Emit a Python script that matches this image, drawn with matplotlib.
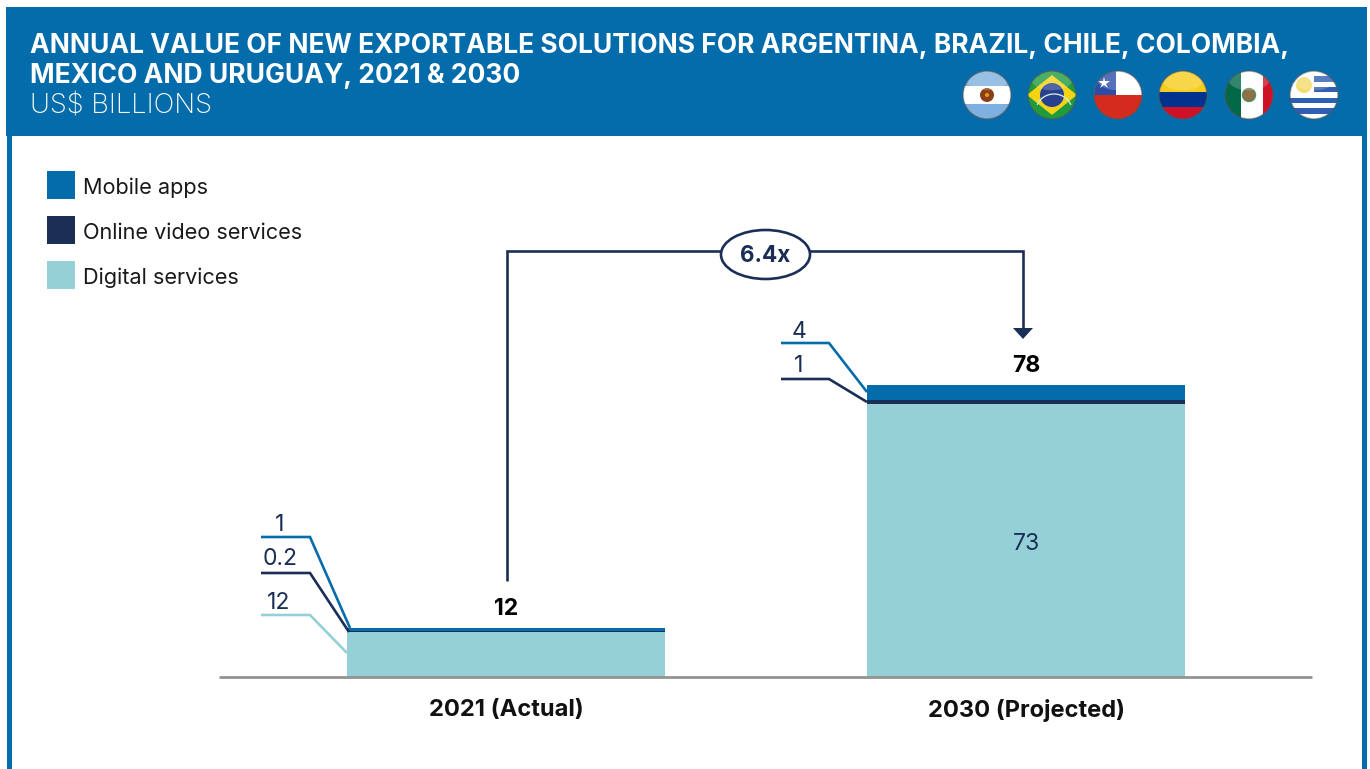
#!/usr/bin/env python3
"""Annual value of new exportable solutions, 2021 and 2030."""

import matplotlib

matplotlib.use("Agg")
import matplotlib.pyplot as plt
from matplotlib.patches import Arc, Circle, Ellipse, Polygon, Rectangle

YEARS = ["2021 (Actual)", "2030 (Projected)"]
DIGITAL = [12, 73]
ONLINE = [0.2, 1]
MOBILE = [1, 4]
TOTALS = ["12", "78"]
DIGITAL_LABELS = ["12", "73"]
ONLINE_LABELS = ["0.2", "1"]
MOBILE_LABELS = ["1", "4"]
LEGEND = ["Mobile apps", "Online video services", "Digital services"]
MULTIPLE = "6.4x"

BLUE = "#056cab"
NAVY = "#1b2f56"
TEAL = "#95d0d7"
W, H = 1370, 769
FONT = "Inter"
LINE = 1.9

plt.rcParams["font.family"] = FONT


def px(size):
    return size * 0.72


fig = plt.figure(figsize=(W / 100, H / 100), dpi=100)

# overlay in pixel coordinates for header, legend and callouts
ov = fig.add_axes([0, 0, 1, 1], zorder=3)
ov.set_xlim(0, W)
ov.set_ylim(H, 0)
ov.axis("off")
ov.patch.set_alpha(0)

# chart axes, bars go through the data scale
ax = fig.add_axes([219 / W, 1 - 677 / H, (1312 - 219) / W, (677 - 136) / H], zorder=2)
ax.set_xlim(-0.552, 1.55)
ax.set_ylim(0, 541 / 3.74)
ax.patch.set_alpha(0)
xs = [0, 1]
bar_w = 318 / 520
bottom_online = DIGITAL
bottom_mobile = [a + b for a, b in zip(DIGITAL, ONLINE)]
ax.bar(xs, DIGITAL, bar_w, color=TEAL)
ax.bar(xs, ONLINE, bar_w, bottom=bottom_online, color=NAVY)
ax.bar(xs, MOBILE, bar_w, bottom=bottom_mobile, color=BLUE)
for side in ("top", "left", "right"):
    ax.spines[side].set_visible(False)
ax.spines["bottom"].set_color("#939393")
ax.spines["bottom"].set_linewidth(2)
ax.spines["bottom"].set_capstyle("butt")
ax.set_yticks([])
ax.set_xticks(xs)
ax.set_xticklabels(YEARS, fontsize=px(23.7), fontweight="bold", color="#111111")
ax.tick_params(axis="x", length=0, pad=16)
ax.annotate(DIGITAL_LABELS[1], (1, DIGITAL[1] / 2), xytext=(0, -4), textcoords="offset pixels",
            ha="center", va="center", fontsize=px(23), color=NAVY)
for x, top, label in zip(xs, [a + b for a, b in zip(bottom_mobile, MOBILE)], TOTALS):
    ax.annotate(label, (x, top), xytext=(0, 8), textcoords="offset pixels",
                ha="center", va="bottom", fontsize=px(23), fontweight="bold", color="black")

# frame and header
ov.add_patch(Rectangle((7, 136), 5, H - 136, color=BLUE, lw=0))
ov.add_patch(Rectangle((1362, 136), 5, H - 136, color=BLUE, lw=0))
ov.add_patch(Rectangle((6, 7), 1361, 129, color=BLUE, lw=0))
ov.text(30, 46, "ANNUAL VALUE OF NEW EXPORTABLE SOLUTIONS FOR ARGENTINA, BRAZIL, CHILE, COLOMBIA,",
        color="white", fontsize=px(26.4), fontweight="bold", va="center")
ov.text(30, 76, "MEXICO AND URUGUAY, 2021 & 2030",
        color="white", fontsize=px(26.4), fontweight="bold", va="center")
ov.text(30, 106, "US$ BILLIONS", color="white", fontsize=px(27.3), fontweight="light", va="center")

# legend
for y, color, label in zip([171, 216, 261], [BLUE, NAVY, TEAL], LEGEND):
    ov.add_patch(Rectangle((47, y), 28, 28, color=color, lw=0))
    ov.text(83, y + 17, label, fontsize=px(21.7), color="#1a1a1a", va="center")


def leader(points, color):
    ov.plot(*zip(*points), color=color, lw=LINE, solid_joinstyle="miter", solid_capstyle="butt")


# leader lines and their labels
leader([(261, 537), (310, 537), (350, 628)], BLUE)
leader([(261, 573), (310, 573), (349, 632)], NAVY)
leader([(261, 615), (310, 615), (347, 653)], TEAL)
leader([(781, 343), (829, 343), (867, 392)], BLUE)
leader([(781, 379), (829, 379), (867, 402)], NAVY)
for x, y, label in [(280, 525, MOBILE_LABELS[0]), (280, 559, ONLINE_LABELS[0]),
                    (279, 603, DIGITAL_LABELS[0]), (799, 332, MOBILE_LABELS[1]),
                    (799, 366, ONLINE_LABELS[1])]:
    ov.text(x, y, label, ha="center", va="center", fontsize=px(23), color=NAVY)

# growth bracket
ov.plot([507.5, 507.5, 1023.5, 1023.5], [581, 251, 251, 328], color=NAVY, lw=LINE,
        solid_joinstyle="miter", solid_capstyle="butt")
ov.add_patch(Polygon([(1013, 328), (1033, 328), (1023, 339)], color=NAVY, lw=0))
ov.add_patch(Ellipse((765.5, 254.5), 89, 49, fc="white", ec=NAVY, lw=LINE, zorder=4))
ov.text(765.5, 256, MULTIPLE, ha="center", va="center", fontsize=px(22.5),
        fontweight="bold", color=NAVY, zorder=5)


def flag(cx, cy, shapes, r=24):
    clip = Circle((cx, cy), r, transform=ov.transData)
    for x0, y0, w, h, color in shapes:
        p = Rectangle((cx + x0 * r, cy + y0 * r), w * r, h * r, color=color, lw=0, zorder=6)
        ov.add_patch(p)
        p.set_clip_path(clip)
    return clip


def clipped(patch, clip, z=7):
    ov.add_patch(patch)
    patch.set_zorder(z)
    patch.set_clip_path(clip)


def finish(cx, cy, clip, r=24):
    gloss = Ellipse((cx, cy - r * 0.62), r * 1.7, r * 0.85, color="white", alpha=0.2, lw=0)
    clipped(gloss, clip, 9)
    ov.add_patch(Circle((cx, cy), r, fc="none", ec="#555555", lw=1, alpha=0.6, zorder=10))


# Argentina
cx, cy = 987, 95
c = flag(cx, cy, [(-1, -1, 2, 0.62, "#7eb1df"), (-1, -0.38, 2, 0.76, "white"), (-1, 0.38, 2, 0.62, "#7eb1df")])
clipped(Circle((cx, cy), 7, color="#8a3f17", lw=0), c)
clipped(Circle((cx, cy), 2, color="#e49a1c", lw=0), c, 8)
finish(cx, cy, c)

# Brazil
cx, cy = 1052, 95
c = flag(cx, cy, [(-1, -1, 2, 2, "#1f9a3c")])
clipped(Polygon([(cx - 25, cy), (cx, cy - 20), (cx + 25, cy), (cx, cy + 20)], color="#f4d316", lw=0), c)
clipped(Circle((cx, cy), 12, color="#27408f", lw=0), c, 8)
band = Arc((cx + 2, cy + 16), 36, 34, theta1=200, theta2=340, color="#cfe6dc", lw=1)
clipped(band, c, 8)
finish(cx, cy, c)

# Chile
cx, cy = 1118, 95
c = flag(cx, cy, [(-1, -1, 2, 1, "white"), (-1, 0, 2, 1, "#d52b1e"), (-1, -1, 0.93, 1, "#2a4ea8")])
ov.plot([cx - 14], [cy - 12], marker="*", ms=9, color="white", mew=0, zorder=8)
finish(cx, cy, c)

# Colombia
cx, cy = 1183, 95
c = flag(cx, cy, [(-1, -1, 2, 0.86, "#f6cd1e"), (-1, -0.14, 2, 0.63, "#00338d"), (-1, 0.49, 2, 0.51, "#ce1126")])
finish(cx, cy, c)

# Mexico
cx, cy = 1249, 95
c = flag(cx, cy, [(-1, -1, 0.65, 2, "#006847"), (-0.35, -1, 0.92, 2, "white"), (0.57, -1, 0.43, 2, "#ce1126")])
clipped(Circle((cx, cy), 6.5, fc="#8f6f45", ec="#4f8f5f", lw=1), c)
finish(cx, cy, c)

# Uruguay
cx, cy = 1314, 95
stripes = [(-1, -1 + i * 2 / 9, 2, 2 / 9, "#2f5fb0" if i % 2 else "white") for i in range(9)]
c = flag(cx, cy, stripes + [(-1, -1, 1, 10 / 9, "white")])
clipped(Circle((cx - 10, cy - 10), 8, color="#f4dc6e", lw=0), c)
finish(cx, cy, c)

fig.savefig("out.png", dpi=100)
